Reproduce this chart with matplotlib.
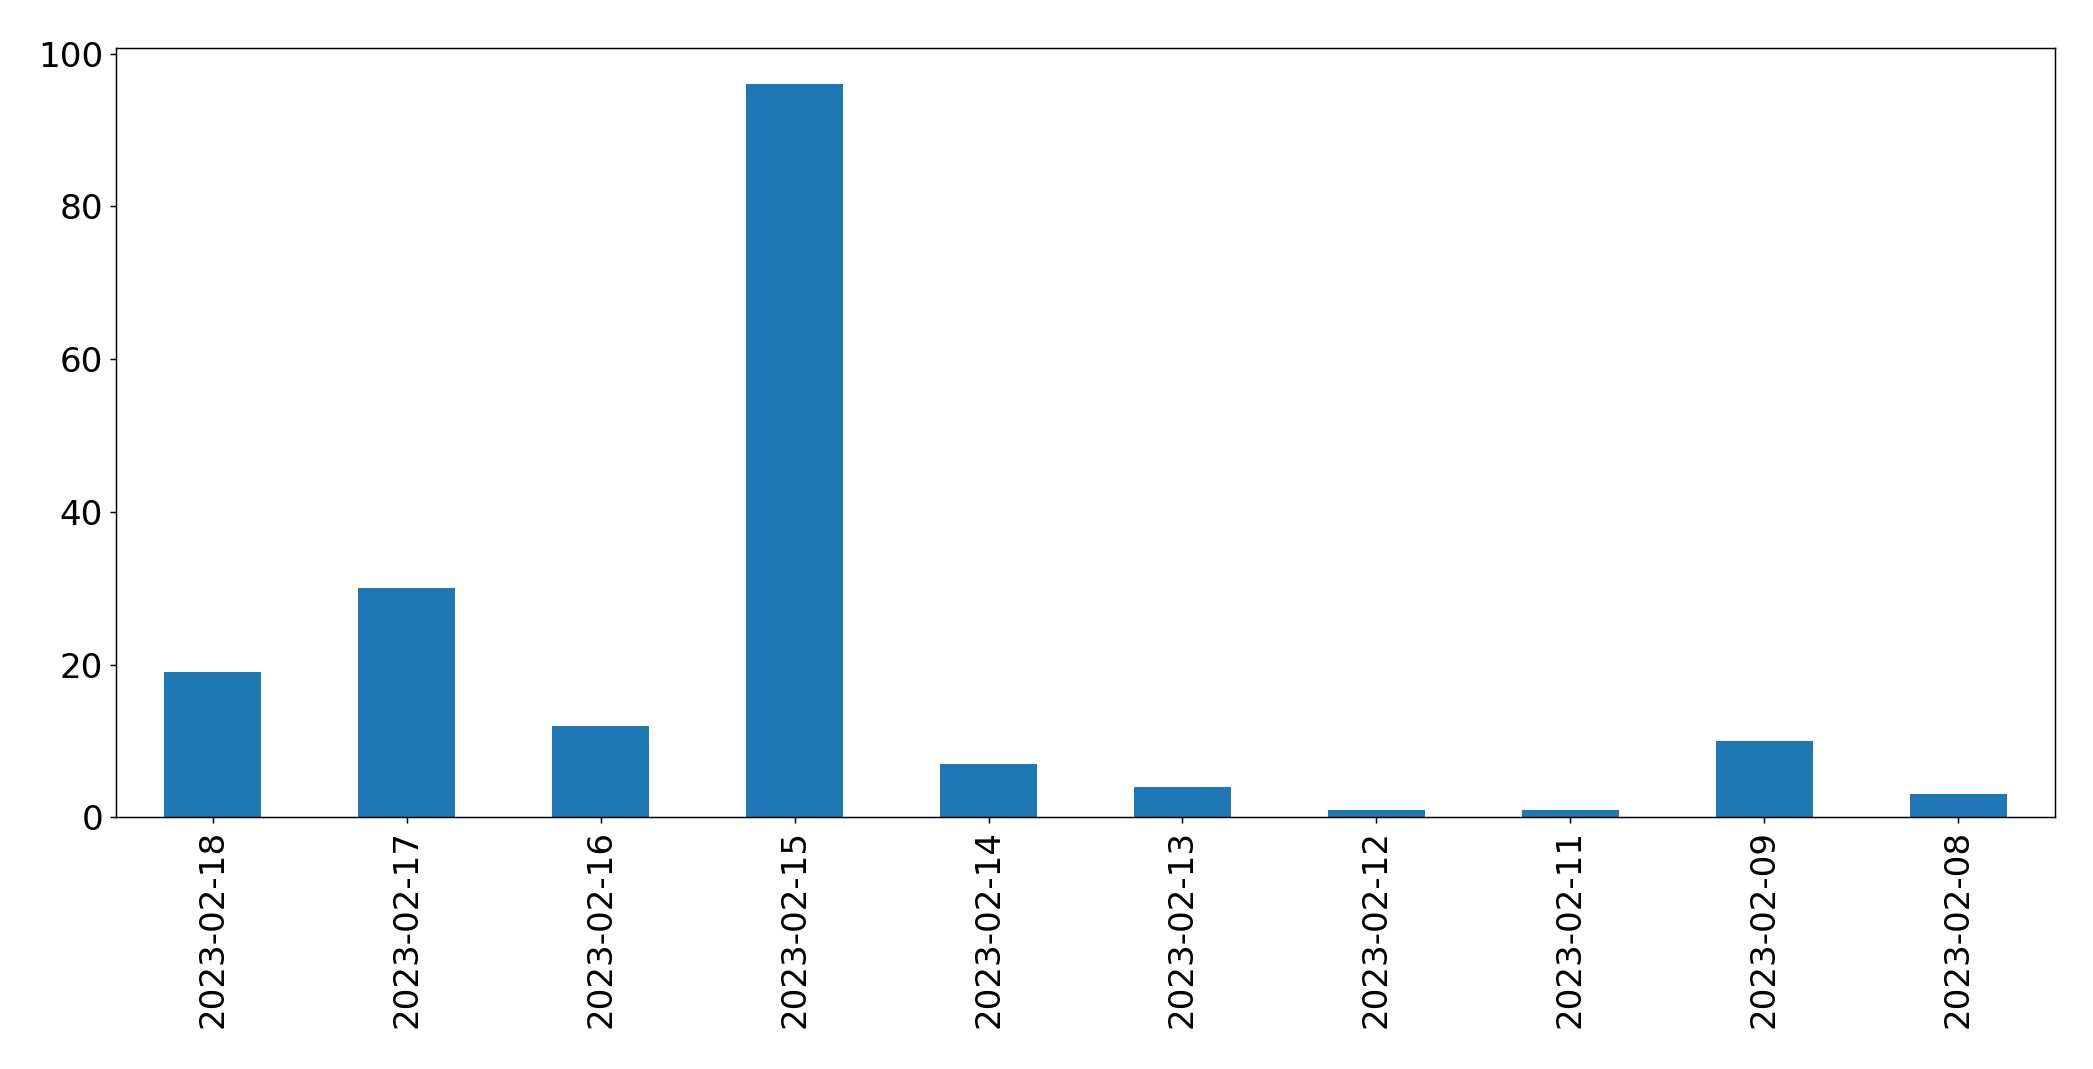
import matplotlib
matplotlib.use("Agg")
import matplotlib.pyplot as plt

dates = ["2023-02-18", "2023-02-17", "2023-02-16", "2023-02-15", "2023-02-14",
         "2023-02-13", "2023-02-12", "2023-02-11", "2023-02-09", "2023-02-08"]
counts = [19, 30, 12, 96, 7, 4, 1, 1, 10, 3]

DPI = 133
fig = plt.figure(figsize=(2093 / DPI, 1069 / DPI), dpi=DPI)
ax = fig.add_axes([116 / 2093, 1 - 817.3 / 1069, (2055 - 116) / 2093, (817.3 - 47.5) / 1069])
x = list(range(len(dates)))
ax.bar(x, counts, width=0.5, color="#1f77b4")
ax.set_xlim(-0.5, len(dates) - 0.5)
ax.set_ylim(0, max(counts) * 1.05)
ax.set_xticks(x)
ax.set_xticklabels(dates, rotation=90)
ax.set_yticks([0, 20, 40, 60, 80, 100])
ax.tick_params(labelsize=18.5)
fig.savefig("out.png", dpi=DPI)
